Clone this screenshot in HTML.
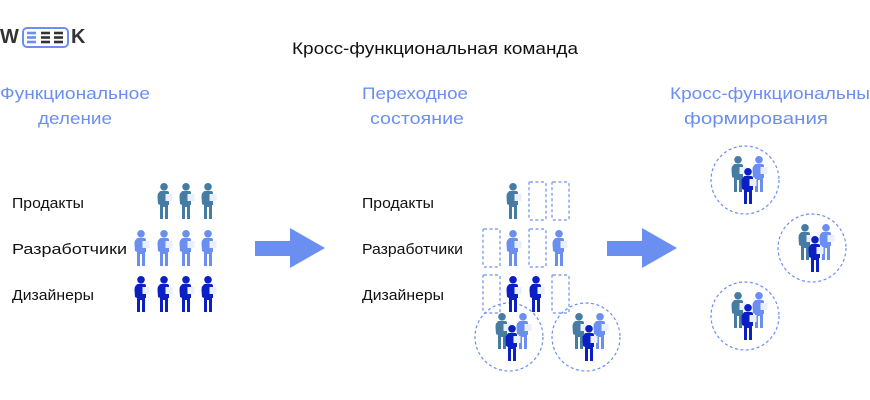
<!DOCTYPE html>
<html><head><meta charset="utf-8"><style>
html,body{margin:0;padding:0;background:#fff;}
svg{display:block;font-family:"Liberation Sans","Noto Sans CJK SC",sans-serif;}
</style></head><body>
<svg width="870" height="400" viewBox="0 0 870 400" xmlns="http://www.w3.org/2000/svg">
<defs>
<g id="p">
  <circle cx="7" cy="3.8" r="3.8"/>
  <path d="M2.5 9 Q2.5 8 4 8 L10 8 Q12 8 12 10 L12 22 L11 22 L11 36 L8 36 L8 24 L6 24 L6 36 L3 36 L3 22 L1 21 L0.5 14 Q0.5 10 2.5 9 Z"/>
  <rect x="8.5" y="11" width="7" height="7" fill="#e9effc"/>
</g>
<g id="grp">
<use href="#p" x="-14" y="-24" fill="#467ca3"/>
<use href="#p" x="7" y="-24" fill="#6b8ff0"/>
<use href="#p" x="-4" y="-12" fill="#0a1fc4"/>
</g>
</defs>
<!-- logo -->
<text x="0" y="43" font-size="20" font-weight="bold" fill="#333">W</text>
<rect x="23" y="28" width="45" height="19" rx="4" fill="none" stroke="#6b8ff0" stroke-width="2"/>
<g stroke-width="2.6">
<line x1="27" y1="33" x2="36" y2="33" stroke="#6b8ff0"/><line x1="27" y1="37.5" x2="36" y2="37.5" stroke="#6b8ff0"/><line x1="27" y1="42" x2="36" y2="42" stroke="#6b8ff0"/>
<line x1="41" y1="33" x2="50" y2="33" stroke="#333"/><line x1="41" y1="37.5" x2="50" y2="37.5" stroke="#333"/><line x1="41" y1="42" x2="50" y2="42" stroke="#333"/>
<line x1="54" y1="33" x2="63" y2="33" stroke="#333"/><line x1="54" y1="37.5" x2="63" y2="37.5" stroke="#333"/><line x1="54" y1="42" x2="63" y2="42" stroke="#333"/>
</g>
<text x="71" y="43" font-size="20" font-weight="bold" fill="#333">K</text>

<text x="292" y="54" font-size="17" fill="#111" textLength="286" lengthAdjust="spacingAndGlyphs">Кросс-функциональная команда</text>

<g font-size="17" fill="#6b8ff0">
<text x="0" y="99" textLength="150" lengthAdjust="spacingAndGlyphs">Функциональное</text>
<text x="38" y="124" textLength="74" lengthAdjust="spacingAndGlyphs">деление</text>
<text x="362" y="99" textLength="106" lengthAdjust="spacingAndGlyphs">Переходное</text>
<text x="370" y="124" textLength="94" lengthAdjust="spacingAndGlyphs">состояние</text>
<text x="670" y="99" textLength="200" lengthAdjust="spacingAndGlyphs">Кросс-функциональны</text>
<text x="684" y="124" textLength="144" lengthAdjust="spacingAndGlyphs">формирования</text>
</g>

<g font-size="15" fill="#111">
<text x="12" y="208" textLength="72" lengthAdjust="spacingAndGlyphs">Продакты</text>
<text x="12" y="254" textLength="115" lengthAdjust="spacingAndGlyphs">Разработчики</text>
<text x="12" y="300" textLength="82" lengthAdjust="spacingAndGlyphs">Дизайнеры</text>
<text x="362" y="208" textLength="72" lengthAdjust="spacingAndGlyphs">Продакты</text>
<text x="362" y="254" textLength="101" lengthAdjust="spacingAndGlyphs">Разработчики</text>
<text x="362" y="300" textLength="82" lengthAdjust="spacingAndGlyphs">Дизайнеры</text>
</g>

<!-- left grid -->
<g fill="#467ca3"><use href="#p" x="157" y="183"/><use href="#p" x="179" y="183"/><use href="#p" x="201" y="183"/></g>
<g fill="#6b8ff0"><use href="#p" x="134" y="230"/><use href="#p" x="157" y="230"/><use href="#p" x="179" y="230"/><use href="#p" x="201" y="230"/></g>
<g fill="#0a1fc4"><use href="#p" x="134" y="276"/><use href="#p" x="157" y="276"/><use href="#p" x="179" y="276"/><use href="#p" x="201" y="276"/></g>

<!-- arrows -->
<path d="M255 241 L290 241 L290 228 L325 248 L290 268 L290 256 L255 256 Z" fill="#6b8ff0"/>
<path d="M607 241 L642 241 L642 228 L677 248 L642 268 L642 256 L607 256 Z" fill="#6b8ff0"/>

<!-- middle -->
<g fill="none" stroke="#6b8ff0" stroke-width="1.2" stroke-dasharray="3,2.5">
<rect x="529" y="182" width="17" height="38" rx="1"/><rect x="552" y="182" width="17" height="38" rx="1"/>
<rect x="483" y="229" width="17" height="38" rx="1"/><rect x="529" y="229" width="17" height="38" rx="1"/>
<rect x="483" y="275" width="17" height="38" rx="1"/><rect x="552" y="275" width="17" height="38" rx="1"/>
<circle cx="509" cy="337" r="34"/><circle cx="586" cy="337" r="34"/>
<circle cx="745" cy="180" r="34"/><circle cx="812" cy="248" r="34"/><circle cx="745" cy="316" r="34"/>
</g>
<use href="#p" x="506" y="183" fill="#467ca3"/>
<use href="#p" x="506" y="230" fill="#6b8ff0"/><use href="#p" x="552" y="230" fill="#6b8ff0"/>
<use href="#p" x="506" y="276" fill="#0a1fc4"/><use href="#p" x="529" y="276" fill="#0a1fc4"/>

<use href="#grp" x="509" y="337"/>
<use href="#grp" x="586" y="337"/>
<use href="#grp" x="745" y="180"/>
<use href="#grp" x="812" y="248"/>
<use href="#grp" x="745" y="316"/>
</svg>
</body></html>
